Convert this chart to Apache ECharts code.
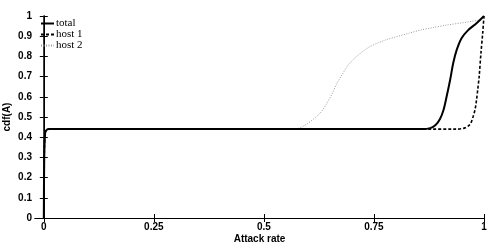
<!DOCTYPE html>
<html><head><meta charset="utf-8">
<script src="https://cdn.jsdelivr.net/npm/echarts@6/dist/echarts.min.js"></script>
<style>html,body{margin:0;padding:0;background:#fff}#c{width:504px;height:248px}</style>
</head><body><div id="c"></div>
<script>
var xTicks = [0, 0.25, 0.5, 0.75, 1];
var xTickLabels = ['0', '0.25', '0.5', '0.75', '1'];
var yTicks = [0, 0.1, 0.2, 0.3, 0.4, 0.5, 0.6, 0.7, 0.8, 0.9, 1];

var totalX = [0, 0.001, 0.003, 0.006, 0.012, 0.5, 0.86, 0.878, 0.89, 0.9, 0.908, 0.915, 0.923, 0.93, 0.938, 0.949, 0.964, 0.983, 1.0];
var totalY = [0, 0.30, 0.42, 0.435, 0.44, 0.44, 0.44, 0.445, 0.46, 0.49, 0.535, 0.60, 0.683, 0.766, 0.832, 0.89, 0.93, 0.964, 1.0];

var host1X = [0, 0.001, 0.003, 0.006, 0.012, 0.5, 0.94, 0.955, 0.964, 0.97, 0.975, 0.98, 0.983, 0.986, 0.989, 0.993, 0.997, 1.0];
var host1Y = [0, 0.30, 0.42, 0.435, 0.44, 0.44, 0.44, 0.445, 0.455, 0.47, 0.50, 0.54, 0.584, 0.64, 0.70, 0.815, 0.914, 1.0];

var host2X = [0, 0.001, 0.003, 0.006, 0.012, 0.3, 0.57, 0.59, 0.613, 0.63, 0.643, 0.655, 0.666, 0.678, 0.689, 0.703, 0.719, 0.737, 0.757, 0.78, 0.802, 0.83, 0.855, 0.885, 0.915, 0.95, 0.975, 0.991, 1.0];
var host2Y = [0, 0.30, 0.42, 0.435, 0.44, 0.44, 0.44, 0.455, 0.49, 0.525, 0.568, 0.615, 0.667, 0.71, 0.75, 0.785, 0.815, 0.843, 0.865, 0.884, 0.898, 0.915, 0.93, 0.943, 0.955, 0.966, 0.975, 0.982, 1.0];

function pairs(xs, ys) { return xs.map(function (x, i) { return [x, ys[i]]; }); }

var chart = echarts.init(document.getElementById('c'), null, {renderer: 'canvas'});
var bold = {fontFamily: 'Liberation Sans, Arial, sans-serif', fontWeight: 'bold', fontSize: 10, color: '#000'};
chart.setOption({
  animation: false,
  backgroundColor: '#fff',
  grid: {left: 35, right: 20, top: 16, bottom: 30, containLabel: false, outerBoundsMode: 'none'},
  legend: {
    data: ['total', 'host 1', 'host 2'],
    orient: 'vertical', left: 40, top: 18,
    itemWidth: 13, itemHeight: 7, itemGap: 0,
    itemStyle: {opacity: 0},
    textStyle: {fontFamily: 'Liberation Serif, Times New Roman, serif', fontSize: 11, color: '#000', lineHeight: 7, padding: [0, 0, 0, -3]},
    padding: 0
  },
  xAxis: [{
    type: 'value', min: -0.02, max: 1,
    name: 'Attack rate', nameLocation: 'middle', nameGap: 16, nameMoveOverlap: false,
    nameTextStyle: bold,
    axisLine: {show: true, lineStyle: {color: '#000', width: 1}},
    axisTick: {show: true, inside: true, length: 4, customValues: xTicks, lineStyle: {color: '#000'}},
    axisLabel: {customValues: xTicks, formatter: function (v) { var i = xTicks.indexOf(v); return i >= 0 ? xTickLabels[i] : ''; }, margin: 4, fontFamily: bold.fontFamily, fontWeight: 'bold', fontSize: 10, color: '#000'},
    splitLine: {show: false}
  }, {
    type: 'value', min: -0.02, max: 1, position: 'top',
    axisLine: {show: true, lineStyle: {color: '#000', width: 1}},
    axisTick: {show: true, inside: true, length: 4, customValues: xTicks, lineStyle: {color: '#000'}},
    axisLabel: {show: false}, splitLine: {show: false}
  }],
  yAxis: [{
    type: 'value', min: 0, max: 1, interval: 0.1,
    name: 'cdf(A)', nameLocation: 'middle', nameGap: 23, nameRotate: 90, nameMoveOverlap: false,
    nameTextStyle: bold,
    axisLine: {show: true, lineStyle: {color: '#000', width: 1.5}},
    axisTick: {show: true, inside: true, length: 4, lineStyle: {color: '#000'}},
    axisLabel: {margin: 3, fontFamily: bold.fontFamily, fontWeight: 'bold', fontSize: 10, color: '#000', formatter: function (v) { return String(Math.round(v * 10) / 10); }},
    splitLine: {show: false}
  }, {
    type: 'value', min: 0, max: 1, interval: 0.1, position: 'right',
    axisLine: {show: true, lineStyle: {color: '#000', width: 1}},
    axisTick: {show: true, inside: true, length: 4, lineStyle: {color: '#000'}},
    axisLabel: {show: false}, splitLine: {show: false}
  }],
  series: [{
    name: 'host 2', type: 'line', showSymbol: false, symbol: 'none', smooth: 0.3,
    data: pairs(host2X, host2Y), z: 2,
    lineStyle: {color: '#9a9a9a', width: 1, type: [1, 1.5]}, itemStyle: {color: '#9a9a9a'}
  }, {
    name: 'host 1', type: 'line', showSymbol: false, symbol: 'none', smooth: 0.3,
    data: pairs(host1X, host1Y), z: 3,
    lineStyle: {color: '#000', width: 1.6, type: [3, 2]}, itemStyle: {color: '#000'}
  }, {
    name: 'total', type: 'line', showSymbol: false, symbol: 'none', smooth: 0.3,
    data: pairs(totalX, totalY), z: 4,
    lineStyle: {color: '#000', width: 2}, itemStyle: {color: '#000'}
  }]
});
</script></body></html>
